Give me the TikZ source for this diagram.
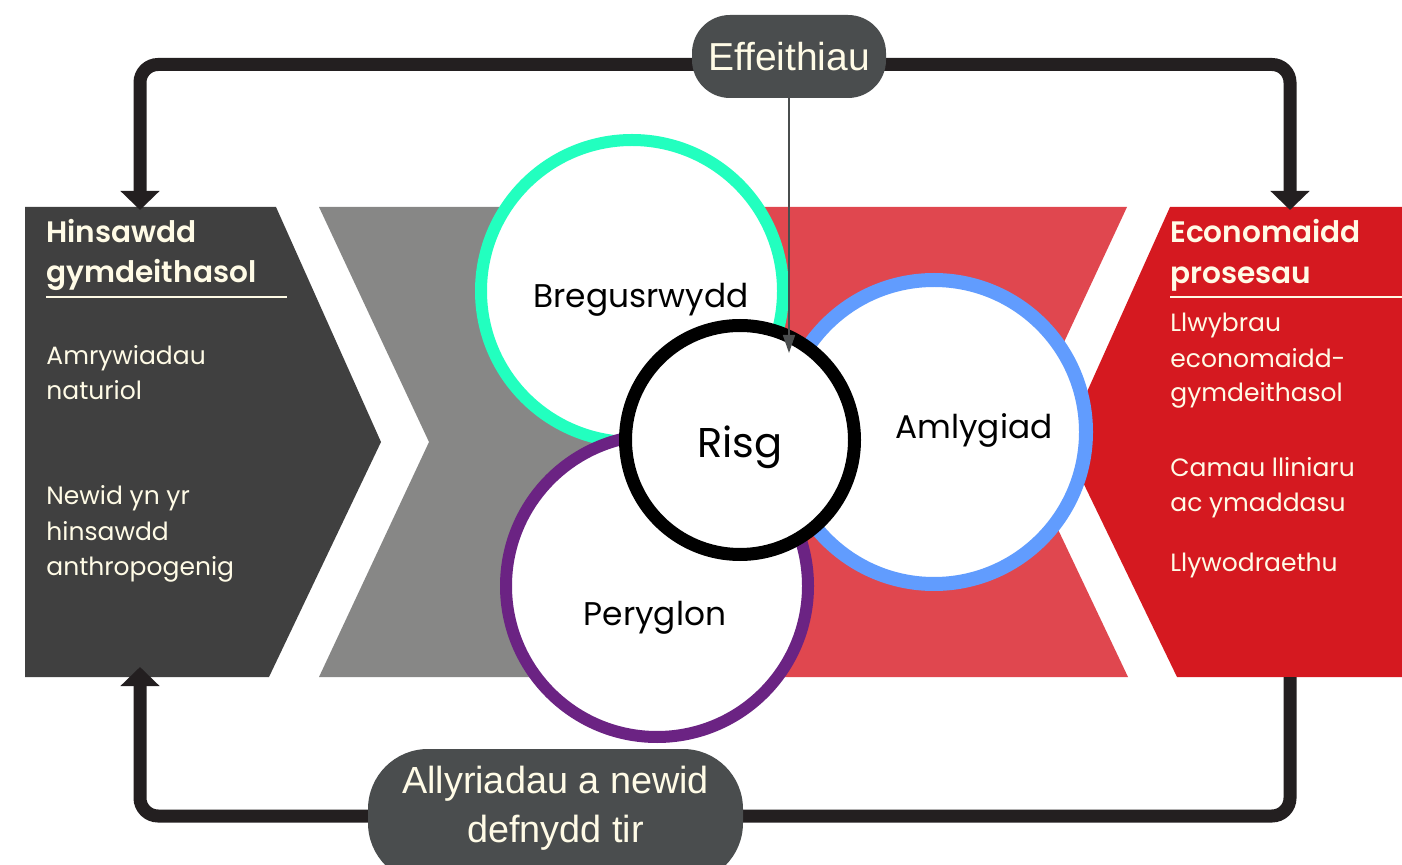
\documentclass[tikz,border=0pt]{standalone}
\usepackage{fontspec}
\setmainfont{Poppins}
\newfontfamily\narrowfont{Liberation Sans}
\newfontfamily\headfont{Poppins SemiBold}
\usetikzlibrary{arrows.meta}
\pgfdeclarelayer{bg}
\pgfdeclarelayer{mid}
\pgfsetlayers{bg,mid,main}
\definecolor{darkbox}{HTML}{404040}
\definecolor{greybox}{HTML}{878786}
\definecolor{lightred}{HTML}{E0474F}
\definecolor{darkred}{HTML}{D51920}
\definecolor{ringgreen}{HTML}{22FFBF}
\definecolor{ringblue}{HTML}{619CFE}
\definecolor{ringpurple}{HTML}{6B2383}
\definecolor{pillgrey}{HTML}{4A4D4E}
\definecolor{loopblack}{HTML}{231F20}
\definecolor{cream}{HTML}{FFFBE6}
\tikzset{
  boxtext/.style={anchor=base west, text=cream, inner sep=0pt, font=\fontsize{12.5}{15}\selectfont},
  boxhead/.style={anchor=base west, text=cream, inner sep=0pt, font=\headfont\fontsize{14.8}{20}\selectfont},
  ring/.style={circle, fill=white, inner sep=0pt},
  circlabel/.style={anchor=base, inner sep=0pt, text=black, font=\fontsize{16.4}{20}\selectfont},
  pill/.style={fill=pillgrey, text=cream, inner sep=0pt, align=center},
  loopline/.style={draw=loopblack, line width=6.5pt, rounded corners=9pt},
  looptip/.style={-{Triangle[width=19pt,length=9.5pt]}},
  rule/.style={draw=cream, line width=0.8pt}
}
\begin{document}
\begin{tikzpicture}[x=0.5pt,y=-0.5pt]
\useasboundingbox (0,0) rectangle (1402,865);

% background shapes
\begin{pgfonlayer}{bg}
\fill[darkbox] (25,207) -- (276,207) -- (381,442) -- (269,677) -- (25,677) -- cycle;
\fill[greybox] (319,207) -- (710,207) -- (710,677) -- (319,677) -- (429,442) -- cycle;
\fill[lightred] (708,207) -- (1127,207) -- (1017,443) -- (1128,677) -- (708,677) -- cycle;
\fill[darkred] (1170,207) -- (1402,207) -- (1402,677) -- (1177,677) -- (1064,443) -- cycle;
\end{pgfonlayer}

% left box texts
\node[boxhead] (lh1) at (46,243) {Hinsawdd};
\node[boxhead] (lh2) at (46,283) {gymdeithasol};
\draw[rule] (46,297) -- (287,297);
\node[boxtext] (l1) at (46,365) {Amrywiadau};
\node[boxtext] (l2) at (46,400) {naturiol};
\node[boxtext] (l3) at (46,505) {Newid yn yr};
\node[boxtext] (l4) at (46,540) {hinsawdd};
\node[boxtext] (l5) at (46,575) {anthropogenig};

% right box texts
\node[boxhead] (rh1) at (1170,243) {Economaidd};
\node[boxhead] (rh2) at (1170,284) {prosesau};
\draw[rule] (1170,297) -- (1402,297);
\node[boxtext] (r1) at (1170,332) {Llwybrau};
\node[boxtext] (r2) at (1170,368) {economaidd-};
\node[boxtext] (r3) at (1170,402) {gymdeithasol};
\node[boxtext] (r4) at (1170,477) {Camau lliniaru};
\node[boxtext] (r5) at (1170,512) {ac ymaddasu};
\node[boxtext] (r6) at (1170,572) {Llywodraethu};

% circles
\node[ring, draw=ringgreen, line width=6pt, minimum size=151pt] (breg) at (632,291) {};
\node[ring, draw=ringpurple, line width=6pt, minimum size=151pt] (pery) at (657,586) {};
\node[ring, draw=ringblue, line width=7pt, minimum size=152pt] (amly) at (934,432) {};
\node[ring, draw=black, line width=6.5pt, minimum size=114.5pt] (risg) at (740,440) {};

\node[circlabel] (bregt) at (641,308) {Bregusrwydd};
\node[circlabel] (amlyt) at (974,439) {Amlygiad};
\node[circlabel] (peryt) at (655,625) {Peryglon};
\node[circlabel, font=\fontsize{20.8}{25}\selectfont] (risgt) at (740,458) {Risg};

% pills
\node[pill, minimum width=97pt, minimum height=41.5pt, rounded corners=19pt,
      font=\narrowfont\fontsize{19.5}{22}\selectfont] (eff) at (789,56.5) {Effeithiau};
\node[pill, minimum width=187.5pt, minimum height=67pt, rounded corners=30pt, text depth=12pt,
      font=\narrowfont\fontsize{18.9}{24.5}\selectfont] (ally) at (555.5,816) {Allyriadau a newid\\defnydd tir};

% connector end points
\coordinate (ltop) at (140,210);
\coordinate (rtop) at (1290,210);
\coordinate (lbot) at (140,667);
\coordinate (rbot) at (1290,677);
\coordinate (risgtip) at (789,353);

\begin{pgfonlayer}{mid}
\draw[loopline, looptip] ([yshift=-4pt]eff.center) -| (ltop);
\draw[loopline, looptip] ([yshift=-4pt]eff.center) -| (rtop);
\draw[loopline] (rbot) |- (ally.center);
\draw[loopline, looptip] (ally.center) -| (lbot);
\end{pgfonlayer}

\draw[draw=pillgrey, line width=0.8pt, -{Triangle[width=6pt,length=9pt]}] (eff.south) -- (risgtip);
\end{tikzpicture}
\end{document}
